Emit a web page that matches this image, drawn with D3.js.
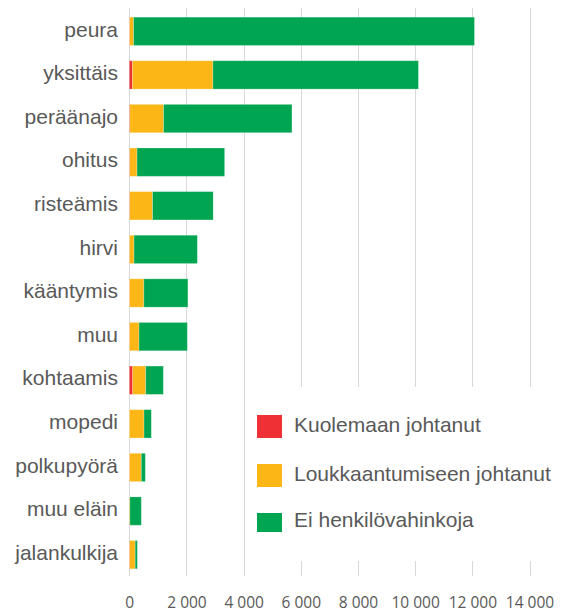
<!DOCTYPE html>
<html>
<head>
<meta charset="utf-8">
<script src="https://cdn.jsdelivr.net/npm/d3@7"></script>
<style>
  html, body { margin: 0; padding: 0; background: #fff; }
  svg { display: block; }
</style>
</head>
<body>
<div id="chart"></div>
<script>
// Onnettomuustyypit, alhaalta ylös piirrettynä ylhäältä alas
const categories = ["peura", "yksittäis", "peräänajo", "ohitus", "risteämis", "hirvi", "kääntymis", "muu", "kohtaamis", "mopedi", "polkupyörä", "muu eläin", "jalankulkija"];
const kuolemaan = [10, 110, 20, 15, 15, 5, 10, 10, 120, 5, 10, 0, 15];
const loukkaantumiseen = [140, 2815, 1180, 255, 800, 160, 500, 330, 455, 510, 410, 20, 190];
const eiHenkilo = [11925, 7190, 4490, 3065, 2120, 2215, 1540, 1690, 615, 255, 140, 400, 75];
const seriesNames = ["Kuolemaan johtanut", "Loukkaantumiseen johtanut", "Ei henkilövahinkoja"];
const tickValues = [0, 2000, 4000, 6000, 8000, 10000, 12000, 14000];

const width = 567, height = 614;
const colors = ["#ef3135", "#fcb716", "#00a551"];
const textColor = "#595959";

const rows = categories.map((c, i) => ({
  cat: c,
  k: kuolemaan[i],
  l: loukkaantumiseen[i],
  e: eiHenkilo[i]
}));

const svg = d3.select("#chart").append("svg")
  .attr("width", width)
  .attr("height", height);

const x = d3.scaleLinear()
  .domain([0, 14000])
  .range([129.3, 529.5]);

const y = d3.scaleBand()
  .domain(categories)
  .range([9.5, 576.5])
  .paddingInner(0.35)
  .paddingOuter(0.175);

// gridlines
svg.append("g")
  .selectAll("line")
  .data(tickValues)
  .join("line")
  .attr("x1", d => Math.round(x(d)) + 0.5)
  .attr("x2", d => Math.round(x(d)) + 0.5)
  .attr("y1", 8)
  .attr("y2", 576)
  .attr("stroke", "#d9d9d9")
  .attr("stroke-width", 1);

// stacked bars
const stack = d3.stack().keys(["k", "l", "e"]);
const stacked = stack(rows);

svg.append("g")
  .selectAll("g")
  .data(stacked)
  .join("g")
  .attr("fill", (d, i) => colors[i])
  .selectAll("rect")
  .data(d => d)
  .join("rect")
  .attr("x", d => x(d[0]))
  .attr("y", d => y(d.data.cat))
  .attr("width", d => Math.max(0, x(d[1]) - x(d[0])))
  .attr("height", y.bandwidth())
  .attr("stroke", "#fff")
  .attr("stroke-opacity", 0.3)
  .attr("stroke-width", 0.8);

// category labels
svg.append("g")
  .selectAll("text")
  .data(categories)
  .join("text")
  .attr("x", 118)
  .attr("y", d => y(d) + y.bandwidth() / 2)
  .attr("dy", "0.25em")
  .attr("text-anchor", "end")
  .style("font-family", "'Liberation Sans', Arial, sans-serif")
  .style("font-size", "21px")
  .style("fill", textColor)
  .text(d => d);

// x axis labels
const fmt = d => d3.format(",")(d).replace(/,/g, " ");
const xAxis = d3.axisBottom(x)
  .tickValues(tickValues)
  .tickFormat(fmt)
  .tickSize(0)
  .tickPadding(0);

const xAxisG = svg.append("g")
  .attr("transform", "translate(0,592)")
  .call(xAxis);
xAxisG.select(".domain").remove();
xAxisG.selectAll("text")
  .attr("dy", "1.05em")
  .style("font-family", "'Open Sans', sans-serif")
  .style("font-size", "15.5px")
  .style("fill", textColor);

// legend
const legend = svg.append("g");
legend.append("rect")
  .attr("x", 250)
  .attr("y", 387)
  .attr("width", 317)
  .attr("height", 174)
  .attr("fill", "#fff");

const legendTop = [415, 464, 513];
const legendH = [23, 23, 19];
const legendBase = [432, 481, 527];

seriesNames.forEach((name, i) => {
  legend.append("rect")
    .attr("x", 257)
    .attr("y", legendTop[i])
    .attr("width", 25)
    .attr("height", legendH[i])
    .attr("fill", colors[i]);
  legend.append("text")
    .attr("x", 294)
    .attr("y", legendBase[i])
    .style("font-family", "'Liberation Sans', Arial, sans-serif")
    .style("font-size", "21px")
    .style("fill", textColor)
    .text(name);
});
</script>
</body>
</html>
